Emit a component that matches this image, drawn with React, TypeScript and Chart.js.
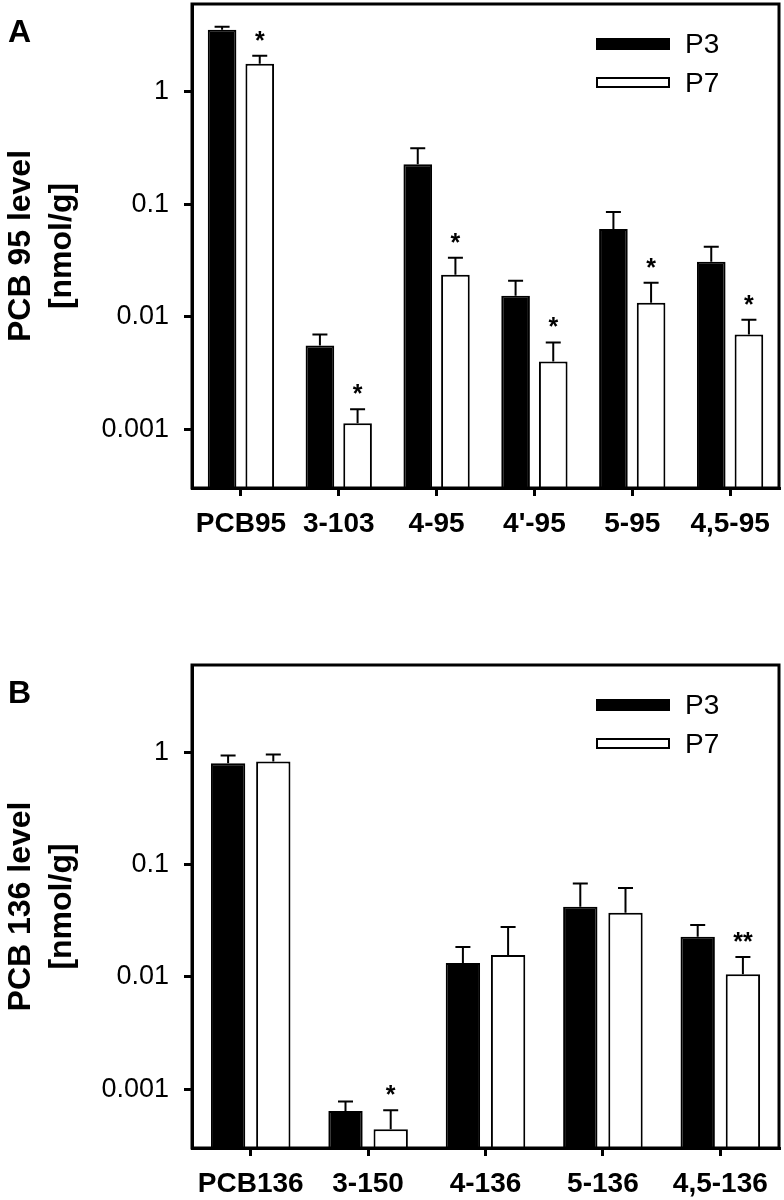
import React, { useEffect, useRef } from "react";
import { Chart, registerables } from "chart.js";

Chart.register(...registerables);

const FONT = 'Arial, "Liberation Sans", Helvetica, sans-serif';

// ---------- Panel A data ----------
const categoriesA = ["PCB95", "3-103", "4-95", "4'-95", "5-95", "4,5-95"];
const p3A = [3.54, 0.00553, 0.226, 0.0153, 0.06, 0.0307];
const p3UpperA = [3.76, 0.00693, 0.313, 0.0208, 0.085, 0.0417];
const p7A = [1.77, 0.00113, 0.0235, 0.004, 0.0133, 0.00693];
const p7UpperA = [2.08, 0.0015, 0.0333, 0.0059, 0.02, 0.0094];
const sigP7A = ["*", "*", "*", "*", "*", "*"];

// ---------- Panel B data ----------
const categoriesB = ["PCB136", "3-150", "4-136", "5-136", "4,5-136"];
const p3B = [0.8, 0.00064, 0.0133, 0.0422, 0.0228];
const p3UpperB = [0.94, 0.00078, 0.0185, 0.068, 0.0291];
const p7B = [0.83, 0.00044, 0.0157, 0.0373, 0.0106];
const p7UpperB = [0.96, 0.00065, 0.0279, 0.062, 0.0151];
const sigP7B = ["", "*", "", "", "**"];

// ---------- Axis ----------
const yTickValues = [0.001, 0.01, 0.1, 1];
const yTickLabels = ["0.001", "0.01", "0.1", "1"];
const yMin = 0.0003;
const yMax = 6;
const seriesNames = ["P3", "P7"];

const decorPlugin = {
  id: "decor",
  afterDatasetsDraw(chart: any) {
    const ctx = chart.ctx;
    const ys = chart.scales.y;
    const { left, right, top, bottom } = chart.chartArea;
    const letter = chart.options.plugins.decor.letter;
    ctx.save();
    // error bars + significance marks
    chart.data.datasets.forEach((ds: any, di: number) => {
      const meta = chart.getDatasetMeta(di);
      meta.data.forEach((el: any, i: number) => {
        const x = el.x;
        const yBar = el.y;
        const yU = ys.getPixelForValue(ds.upper[i]);
        ctx.strokeStyle = "#000";
        ctx.lineWidth = 2;
        ctx.beginPath();
        ctx.moveTo(x, yBar);
        ctx.lineTo(x, yU);
        ctx.moveTo(x - 7.5, yU);
        ctx.lineTo(x + 7.5, yU);
        ctx.stroke();
        const s = ds.sig ? ds.sig[i] : "";
        if (s) {
          ctx.font = `bold 25px ${FONT}`;
          ctx.textAlign = "center";
          ctx.textBaseline = "alphabetic";
          ctx.fillStyle = "#000";
          ctx.fillText(s, x, yU - 7);
        }
      });
    });
    // frame
    ctx.strokeStyle = "#000";
    ctx.lineWidth = 3;
    ctx.strokeRect(left, top, right - left, bottom - top);
    // legend
    const lx = right - 183;
    const lw = 74;
    ctx.fillStyle = "#000";
    ctx.fillRect(lx, top + 34, lw, 12);
    ctx.lineWidth = 2;
    ctx.fillStyle = "#fff";
    ctx.fillRect(lx + 1, top + 74, lw - 2, 9);
    ctx.strokeRect(lx + 1, top + 74, lw - 2, 9);
    ctx.fillStyle = "#000";
    ctx.font = `28px ${FONT}`;
    ctx.textAlign = "left";
    ctx.textBaseline = "middle";
    ctx.fillText(chart.data.datasets[0].label, right - 94, top + 41);
    ctx.fillText(chart.data.datasets[1].label, right - 94, top + 80);
    // panel letter
    ctx.font = `bold 32px ${FONT}`;
    ctx.textBaseline = "alphabetic";
    ctx.fillText(letter, 8, top + 38);
    ctx.restore();
  },
};

type PanelProps = {
  categories: string[];
  p3: number[];
  p3Upper: number[];
  p7: number[];
  p7Upper: number[];
  sig: string[];
  yTitle: string[];
  letter: string;
  top: number;
  padTop: number;
  xHeight: number;
};

function Panel(props: PanelProps) {
  const ref = useRef<HTMLCanvasElement>(null);
  useEffect(() => {
    if (!ref.current) return;
    const chart = new Chart(ref.current, {
      type: "bar",
      data: {
        labels: props.categories,
        datasets: [
          {
            label: seriesNames[0],
            data: props.p3,
            upper: props.p3Upper,
            sig: [],
            backgroundColor: "#000",
            borderColor: "#000",
            borderWidth: 2,
            categoryPercentage: 0.77,
            barPercentage: 0.76,
          } as any,
          {
            label: seriesNames[1],
            data: props.p7,
            upper: props.p7Upper,
            sig: props.sig,
            backgroundColor: "#fff",
            borderColor: "#000",
            borderWidth: 2,
            categoryPercentage: 0.77,
            barPercentage: 0.76,
          } as any,
        ],
      },
      options: {
        animation: false,
        responsive: false,
        devicePixelRatio: 1,
        layout: { padding: { top: props.padTop, right: 5, left: 0, bottom: 0 } },
        plugins: {
          legend: { display: false },
          tooltip: { enabled: false },
          decor: { letter: props.letter },
        } as any,
        scales: {
          x: {
            type: "category",
            offset: true,
            grid: {
              offset: false,
              display: true,
              drawOnChartArea: false,
              drawTicks: true,
              tickLength: 8,
              tickWidth: 3,
              tickColor: "#000",
              lineWidth: 3,
              color: "#000",
            },
            border: { display: true, width: 3, color: "#000" },
            ticks: {
              color: "#000",
              font: { family: FONT, size: 28, weight: "bold" },
              padding: 11,
              autoSkip: false,
              maxRotation: 0,
              minRotation: 0,
            },
            afterFit: (scale: any) => {
              scale.height = props.xHeight;
              scale.paddingLeft = 0;
              scale.paddingRight = 0;
            },
          },
          y: {
            type: "logarithmic",
            min: yMin,
            max: yMax,
            grid: {
              display: true,
              drawOnChartArea: false,
              drawTicks: true,
              tickLength: 8,
              tickWidth: 3,
              tickColor: "#000",
              lineWidth: 3,
              color: "#000",
            },
            border: { display: true, width: 3, color: "#000" },
            afterBuildTicks: (scale: any) => {
              scale.ticks = yTickValues.map((v) => ({ value: v, major: true }));
            },
            ticks: {
              color: "#000",
              font: { family: FONT, size: 27 },
              padding: 15,
              autoSkip: false,
              callback: (value: any) => {
                const idx = yTickValues.findIndex((v) => Math.abs(v - Number(value)) < v * 1e-6);
                return idx >= 0 ? yTickLabels[idx] : "";
              },
            },
            title: {
              display: true,
              text: props.yTitle,
              color: "#000",
              font: { family: FONT, size: 32, weight: "bold", lineHeight: 1.3 },
              padding: { top: 0, bottom: 0 },
            },
            afterFit: (scale: any) => {
              scale.width = 192;
              scale.paddingTop = 0;
              scale.paddingBottom = 0;
            },
          },
        },
      },
      plugins: [decorPlugin],
    } as any);
    return () => chart.destroy();
  }, []);
  return (
    <canvas
      ref={ref}
      width={784}
      height={600}
      style={{ position: "absolute", left: 0, top: props.top, width: 784, height: 600 }}
    />
  );
}

export default function App() {
  return (
    <div style={{ position: "absolute", left: 0, top: 0, width: 784, height: 1200, background: "#fff" }}>
      <Panel
        categories={categoriesA}
        p3={p3A}
        p3Upper={p3UpperA}
        p7={p7A}
        p7Upper={p7UpperA}
        sig={sigP7A}
        yTitle={["PCB 95 level", "[nmol/g]"]}
        letter="A"
        top={0}
        padTop={4}
        xHeight={112}
      />
      <Panel
        categories={categoriesB}
        p3={p3B}
        p3Upper={p3UpperB}
        p7={p7B}
        p7Upper={p7UpperB}
        sig={sigP7B}
        yTitle={["PCB 136 level", "[nmol/g]"]}
        letter="B"
        top={600}
        padTop={65}
        xHeight={52}
      />
    </div>
  );
}
